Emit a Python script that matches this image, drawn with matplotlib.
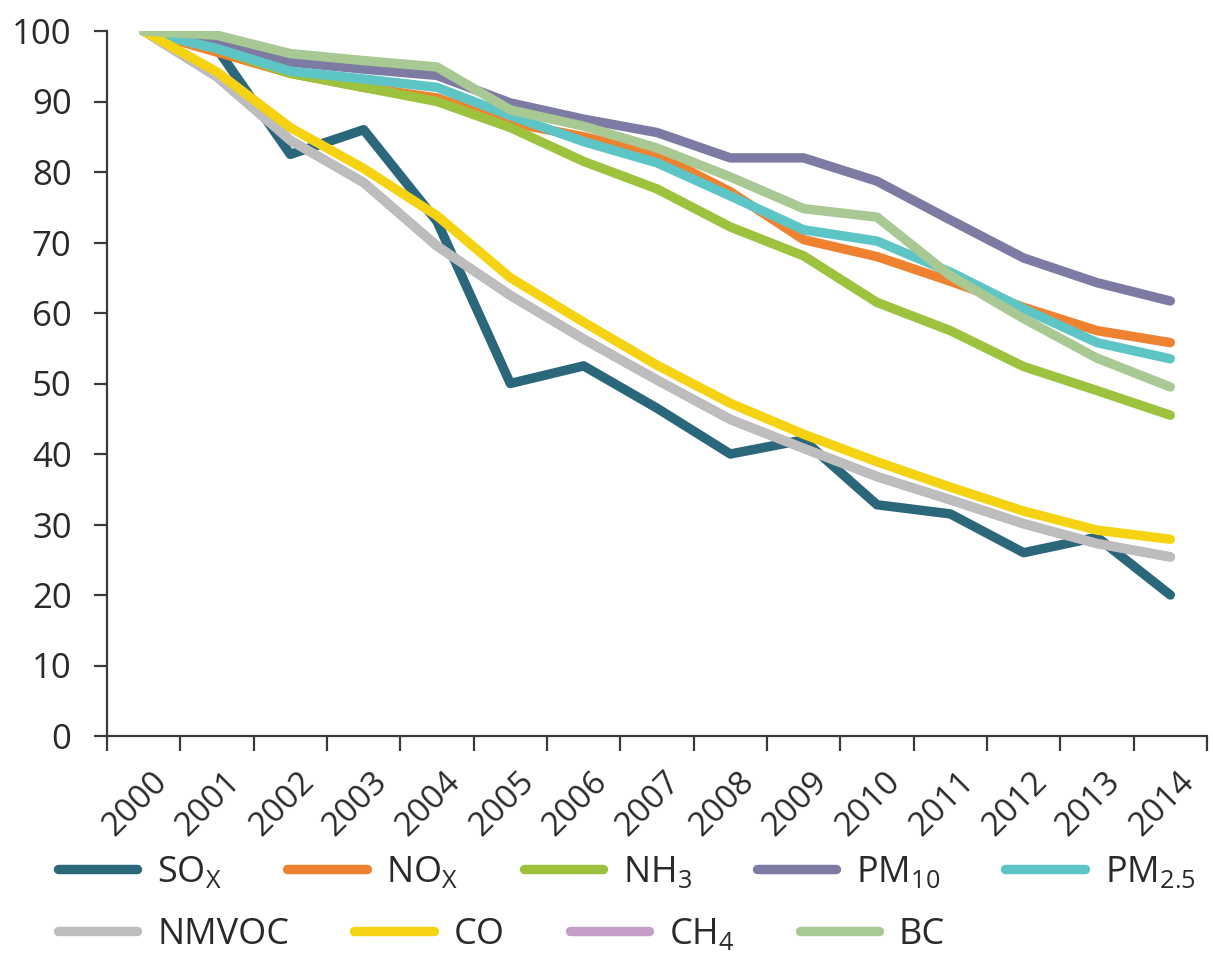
import matplotlib.pyplot as plt
import matplotlib.transforms as mtransforms

plt.rcParams['font.family'] = ['Open Sans', 'DejaVu Sans']
plt.rcParams['mathtext.default'] = 'regular'

years = ['2000', '2001', '2002', '2003', '2004', '2005', '2006', '2007',
         '2008', '2009', '2010', '2011', '2012', '2013', '2014']

sox = [100, 97.5, 82.5, 86, 73, 50, 52.5, 46.5, 40, 42, 32.8, 31.5, 26, 28.2, 20]
nox = [100, 97, 94, 92, 90.5, 87, 85, 82.5, 77.2, 70.4, 68, 64.5, 60.8, 57.5, 55.8]
nh3 = [100, 97.5, 94, 92, 90, 86.3, 81.5, 77.6, 72.2, 68.1, 61.5, 57.5, 52.4, 49, 45.5]
pm10 = [100, 98.2, 95.6, 94.6, 93.7, 89.8, 87.5, 85.6, 82, 82, 78.7, 73.2, 67.8, 64.3, 61.7]
pm25 = [100, 97.5, 94.3, 93.2, 92, 88, 84.3, 81.3, 76.6, 71.8, 70.2, 65.8, 60.6, 55.8, 53.5]
nmvoc = [100, 93.5, 84.5, 78.5, 69.5, 62.5, 56.3, 50.5, 44.9, 40.8, 36.8, 33.5, 30.1, 27.3, 25.4]
co = [100, 94.2, 86.3, 80.5, 73.8, 65, 58.7, 52.6, 47.2, 42.8, 38.9, 35.3, 31.9, 29.2, 27.9]
ch4 = [100, 93.5, 84.5, 78.5, 69.5, 62.5, 56.3, 50.5, 44.9, 40.8, 36.8, 33.5, 30.1, 27.3, 25.4]
bc = [100, 99.4, 96.8, 95.8, 94.9, 88.8, 86.5, 83.4, 79.3, 74.8, 73.6, 65.3, 59.2, 53.6, 49.5]

names = [r'SO$_{X}$', r'NO$_{X}$', r'NH$_{3}$', r'PM$_{10}$', r'PM$_{2.5}$',
         'NMVOC', 'CO', r'CH$_{4}$', 'BC']
series = [sox, nox, nh3, pm10, pm25, nmvoc, co, ch4, bc]
colors = ['#2b677a', '#ef8230', '#9dc23e', '#7d7ba4', '#5ec5c6',
          '#bdbdbd', '#f6d312', '#c49dc9', '#a9c994']
# CH4 is hidden under NMVOC in the original
zorders = [3, 4, 5, 6, 7, 9, 10, 8, 11]

fig = plt.figure(figsize=(12.13, 9.6), dpi=100)
ax = fig.add_axes([107 / 1213, 1 - 736 / 960, 1100 / 1213, 705 / 960])

x = list(range(len(years)))
handles = []
for vals, name, col, z in zip(series, names, colors, zorders):
    h, = ax.plot(x, vals, color=col, lw=6.8, label=name, zorder=z,
                 solid_joinstyle='round', solid_capstyle='round')
    handles.append(h)

ax.set_xlim(-0.5, 14.5)
ax.set_ylim(0, 100)
ax.set_yticks(range(0, 101, 10))

ax.set_xticks([i - 0.5 for i in range(16)])
ax.set_xticklabels([])
ax.set_xticks(x, labels=years, minor=True)

spine_col = '#3a3a3a'
for s in ['top', 'right']:
    ax.spines[s].set_visible(False)
for s in ['left', 'bottom']:
    ax.spines[s].set_color(spine_col)
    ax.spines[s].set_linewidth(1.6)

ax.tick_params(axis='y', length=9.5, width=1.6, color=spine_col, pad=16,
               labelsize=25, labelcolor='#2a2a2a')
ax.tick_params(axis='x', which='major', length=11, width=1.6, color=spine_col)
ax.tick_params(axis='x', which='minor', length=0, pad=21,
               labelsize=24, labelcolor='#2a2a2a')

offset = mtransforms.ScaledTranslation(7 / 100, 0, fig.dpi_scale_trans)
for lab in ax.get_xticklabels(minor=True):
    lab.set_rotation(45)
    lab.set_ha('right')
    lab.set_va('top')
    lab.set_rotation_mode('anchor')
    lab.set_transform(lab.get_transform() + offset)

leg_kw = dict(frameon=False, fontsize=26, handlelength=2.2, handletextpad=0.55,
              columnspacing=1.8, borderpad=0, borderaxespad=0, labelcolor='#2a2a2a')
leg1 = fig.legend(handles=handles[:5], ncol=5, loc='center left',
                  bbox_to_anchor=(58 / 1213, 1 - 873 / 960), **leg_kw)
leg2 = fig.legend(handles=handles[5:], ncol=4, loc='center left',
                  bbox_to_anchor=(58 / 1213, 1 - 935 / 960), **leg_kw)

fig.savefig('out.png', dpi=100)
